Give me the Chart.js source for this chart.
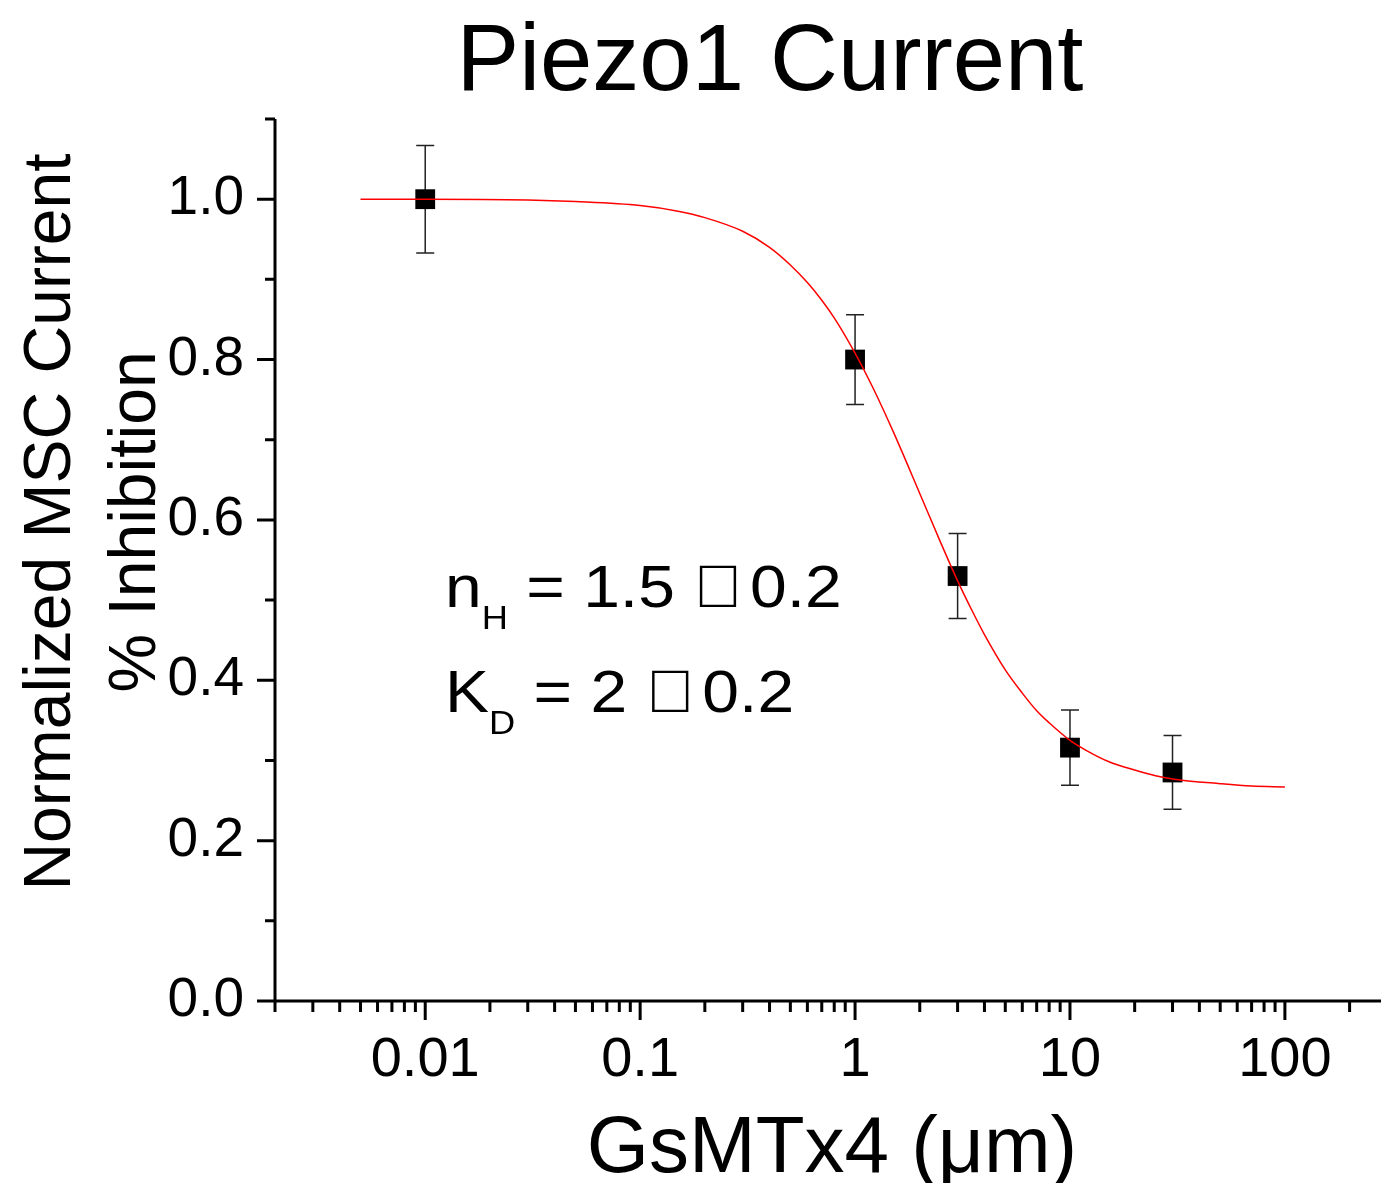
<!DOCTYPE html>
<html>
<head>
<meta charset="utf-8">
<script src="https://cdn.jsdelivr.net/npm/chart.js@4"></script>
<style>
  body { margin: 0; background: #fff; }
</style>
</head>
<body>
<canvas id="chart" width="1381" height="1183"></canvas>
<script>
// measured points (GsMTx4 concentration, normalized current, error)
var doses = [0.01, 1, 3, 10, 30];
var currents = [1.0, 0.80, 0.53, 0.316, 0.285];
var errors = [0.067, 0.056, 0.053, 0.047, 0.046];

// fitted curve
var fitX = [0.005, 0.01, 0.03, 0.05, 0.1, 0.15, 0.2, 0.3, 0.4, 0.5, 0.6, 0.7, 0.8, 1, 1.2, 1.5, 2, 2.5, 3, 3.5, 4, 5, 6, 7, 8, 10, 12, 15, 20, 25, 30, 50, 70, 100];
var fitY = [1.0, 1.0, 0.999, 0.997, 0.992, 0.985, 0.977, 0.960, 0.940, 0.918, 0.896, 0.874, 0.852, 0.808, 0.767, 0.711, 0.633, 0.572, 0.524, 0.487, 0.457, 0.413, 0.384, 0.362, 0.347, 0.325, 0.312, 0.299, 0.288, 0.281, 0.277, 0.271, 0.268, 0.267];

// axis ticks
var xMajor = [0.01, 0.1, 1, 10, 100];
var xMinor = [0.002, 0.003, 0.004, 0.005, 0.006, 0.007, 0.008, 0.009,
              0.02, 0.03, 0.04, 0.05, 0.06, 0.07, 0.08, 0.09,
              0.2, 0.3, 0.4, 0.5, 0.6, 0.7, 0.8, 0.9,
              2, 3, 4, 5, 6, 7, 8, 9,
              20, 30, 40, 50, 60, 70, 80, 90, 200];
var yMajor = [0, 0.2, 0.4, 0.6, 0.8, 1.0];
var yMinor = [0.1, 0.3, 0.5, 0.7, 0.9, 1.1];

// fit parameter lines; the plus-minus sign shows as a missing glyph box
var fitLines = [
    { sym: 'n', sub: 'H', head: ' = 1.5 \uf0b1', tail: ' 0.2' },
    { sym: 'K', sub: 'D', head: ' = 2 \uf0b1', tail: ' 0.2' }
];

var font = '"Liberation Sans", Arial, sans-serif';

var pointData = doses.map(function (d, i) { return { x: d, y: currents[i] }; });
var fitData = fitX.map(function (d, i) { return { x: d, y: fitY[i] }; });

// error bars under the markers
var errorBars = {
    id: 'errorBars',
    beforeDatasetsDraw: function (chart) {
        var ctx = chart.ctx;
        var xs = chart.scales.x, ys = chart.scales.y;
        ctx.save();
        ctx.strokeStyle = '#222';
        ctx.lineWidth = 1.5;
        for (var i = 0; i < doses.length; i++) {
            var px = xs.getPixelForValue(doses[i]);
            var top = ys.getPixelForValue(currents[i] + errors[i]);
            var bot = ys.getPixelForValue(currents[i] - errors[i]);
            ctx.beginPath();
            ctx.moveTo(px, top); ctx.lineTo(px, bot);
            ctx.moveTo(px - 9, top); ctx.lineTo(px + 9, top);
            ctx.moveTo(px - 9, bot); ctx.lineTo(px + 9, bot);
            ctx.stroke();
        }
        ctx.restore();
    }
};

// tick marks, titles and the fit parameters
var decorations = {
    id: 'decorations',
    afterDraw: function (chart) {
        var ctx = chart.ctx;
        var xs = chart.scales.x, ys = chart.scales.y;
        var area = chart.chartArea;
        ctx.save();
        ctx.strokeStyle = '#000';
        ctx.lineWidth = 3;
        ctx.beginPath();
        xMajor.forEach(function (v) {
            var p = xs.getPixelForValue(v);
            ctx.moveTo(p, area.bottom); ctx.lineTo(p, area.bottom + 19);
        });
        xMinor.forEach(function (v) {
            var p = xs.getPixelForValue(v);
            ctx.moveTo(p, area.bottom); ctx.lineTo(p, area.bottom + 11);
        });
        yMajor.forEach(function (v) {
            var p = ys.getPixelForValue(v);
            ctx.moveTo(area.left, p); ctx.lineTo(area.left - 18, p);
        });
        yMinor.forEach(function (v) {
            var p = ys.getPixelForValue(v);
            ctx.moveTo(area.left, p); ctx.lineTo(area.left - 10, p);
        });
        // axis lines
        ctx.moveTo(area.left, area.top); ctx.lineTo(area.left, area.bottom);
        ctx.moveTo(area.left - 18, area.bottom); ctx.lineTo(chart.width, area.bottom);
        ctx.stroke();

        ctx.fillStyle = '#000';
        // main title
        ctx.font = '94px ' + font;
        ctx.textAlign = 'center';
        ctx.textBaseline = 'alphabetic';
        ctx.fillText('Piezo1 Current', 770, 90);
        // x title
        ctx.font = '80px ' + font;
        ctx.fillText('GsMTx4 (\u03bcm)', 832, 1172);
        // y title, two lines
        ctx.save();
        ctx.font = '66px ' + font;
        ctx.translate(70, 522);
        ctx.rotate(-Math.PI / 2);
        ctx.fillText('Normalized MSC Current', 0, 0);
        ctx.fillText('% Inhibition', 0, 85);
        ctx.restore();

        // fit parameters (text is a little wider than normal in the figure)
        ctx.textAlign = 'left';
        var baselines = [607, 712];
        fitLines.forEach(function (ln, i) {
            ctx.save();
            ctx.translate(445, baselines[i]);
            ctx.scale(1.1, 1);
            ctx.font = '60px "Liberation Sans"';
            ctx.fillText(ln.sym, 0, 0);
            var x = ctx.measureText(ln.sym).width;
            ctx.font = '33px "Liberation Sans"';
            ctx.fillText(ln.sub, x, 22);
            x += ctx.measureText(ln.sub).width;
            ctx.font = '60px "Liberation Sans"';
            ctx.fillText(ln.head, x, 0);
            x += ctx.measureText(ln.head).width - 10;
            ctx.fillText(ln.tail, x, 0);
            ctx.restore();
        });
        ctx.restore();
    }
};

new Chart(document.getElementById('chart'), {
    type: 'line',
    data: {
        datasets: [{
            label: 'Fit',
            data: fitData,
            borderColor: '#ff0000',
            borderWidth: 1.5,
            pointRadius: 0,
            fill: false,
            cubicInterpolationMode: 'monotone'
        }, {
            label: 'Piezo1',
            data: pointData,
            showLine: false,
            pointStyle: 'rect',
            pointRadius: 14,
            pointBorderWidth: 0,
            pointBackgroundColor: '#000',
            pointBorderColor: '#000'
        }]
    },
    options: {
        responsive: false,
        animation: false,
        layout: { autoPadding: false, padding: { left: 0, right: 0, top: 119, bottom: 0 } },
        plugins: {
            legend: { display: false },
            title: { display: false },
            tooltip: { enabled: false }
        },
        scales: {
            x: {
                type: 'logarithmic',
                min: 0.002,
                max: 280,
                grid: { display: false, drawTicks: false, tickLength: 0 },
                border: { display: false },
                afterBuildTicks: function (scale) {
                    scale.ticks = xMajor.map(function (v) { return { value: v }; });
                },
                afterFit: function (scale) { scale.height = 182; },
                ticks: {
                    autoSkip: false,
                    maxRotation: 0,
                    padding: 26,
                    color: '#000',
                    font: { family: font, size: 56 },
                    callback: function (v) { return String(v); }
                }
            },
            y: {
                min: 0,
                max: 1.1,
                grid: { display: false, drawTicks: false, tickLength: 0 },
                border: { display: false },
                afterBuildTicks: function (scale) {
                    scale.ticks = yMajor.map(function (v) { return { value: v }; });
                },
                afterFit: function (scale) { scale.width = 275; },
                ticks: {
                    autoSkip: false,
                    padding: 31,
                    color: '#000',
                    font: { family: font, size: 55 },
                    callback: function (v) { return v.toFixed(1); }
                }
            }
        }
    },
    plugins: [errorBars, decorations]
});
</script>
</body>
</html>
